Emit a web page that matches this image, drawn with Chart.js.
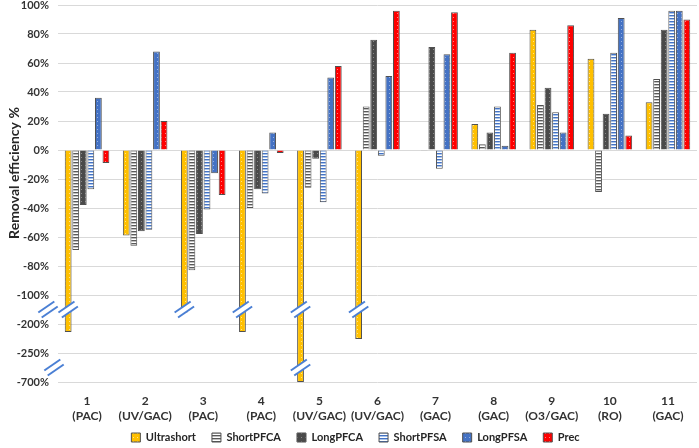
<!DOCTYPE html>
<html>
<head>
<meta charset="utf-8">
<script src="https://cdn.jsdelivr.net/npm/chart.js@4"></script>
<style>
  html, body { margin: 0; padding: 0; background: #fff; }
  #wrap { width: 699px; height: 448px; }
</style>
</head>
<body>
<div id="wrap"><canvas id="chart" width="699" height="448"></canvas></div>
<script>
// categories (two-line labels)
const categories = [
  ['1', '(PAC)'], ['2', '(UV/GAC)'], ['3', '(PAC)'], ['4', '(PAC)'],
  ['5', '(UV/GAC)'], ['6', '(UV/GAC)'], ['7', '(GAC)'], ['8', '(GAC)'],
  ['9', '(O3/GAC)'], ['10', '(RO)'], ['11', '(GAC)']
];

// removal efficiency in %
const ultrashort = [-214, -59, -160, -214, -700, -226, 0, 18, 83, 63, 33];
const shortPFCA  = [-69, -66, -83, -40, -26, 30, -0.5, 4, 31, -29, 49];
const longPFCA   = [-38, -56, -58, -27, -6, 76, 71, 12, 43, 25, 83];
const shortPFSA  = [-27, -55, -41, -30, -36, -4, -13, 30, 26, 67, 96];
const longPFSA   = [36, 68, -16, 12, 50, 51, 66, 3, 12, 91, 96];
const prec       = [-9, 20, -31, -2, 58, 96, 95, 67, 86, 10, 90];

// broken axis: tick position -> label shown
const tickLabels = { '-120': '-200%', '-140': '-250%', '-160': '-700%' };

// map a real % value onto the broken axis
function toAxis(v) {
  if (v >= -100) return v;
  if (v >= -200) return -100 + (v + 100) * 0.2;
  if (v >= -250) return -120 + (v + 200) * 0.4;
  return -140 + (v + 250) * (20 / 450);
}

const FONT = 'Lato, "Open Sans", sans-serif';

function dotPattern(bg, dot) {
  const c = document.createElement('canvas');
  c.width = 4; c.height = 4;
  const g = c.getContext('2d');
  g.fillStyle = bg; g.fillRect(0, 0, 4, 4);
  g.fillStyle = dot; g.fillRect(1, 1, 1, 1);
  return g.createPattern(c, 'repeat');
}
function stripePattern(dark, mid) {
  const c = document.createElement('canvas');
  c.width = 3; c.height = 3;
  const g = c.getContext('2d');
  g.fillStyle = '#fff'; g.fillRect(0, 0, 3, 3);
  g.fillStyle = dark; g.fillRect(0, 0, 3, 1);
  g.fillStyle = mid; g.fillRect(0, 1, 3, 1);
  return g.createPattern(c, 'repeat');
}

const series = [
  { label: 'Ultrashort', data: ultrashort, bg: dotPattern('#FFC000', 'rgba(255,255,255,0.55)') },
  { label: 'ShortPFCA',  data: shortPFCA,  bg: stripePattern('#595959', '#bfbfbf') },
  { label: 'LongPFCA',   data: longPFCA,   bg: dotPattern('#4a4a4a', 'rgba(255,255,255,0.35)') },
  { label: 'ShortPFSA',  data: shortPFSA,  bg: stripePattern('#4472C4', '#a9c4ea') },
  { label: 'LongPFSA',   data: longPFSA,   bg: dotPattern('#4472C4', 'rgba(255,255,255,0.45)') },
  { label: 'Prec',       data: prec,       bg: dotPattern('#FF0000', 'rgba(255,255,255,0.5)') }
];

function drawBreak(ctx, cx, cy) {
  const dx = 8, dy = -5.5;          // half length along the slash
  const len = Math.hypot(dx, dy);
  const nx = -dy / len, ny = dx / len; // normal
  const off = 3;
  ctx.save();
  ctx.fillStyle = '#fff';
  ctx.beginPath();
  ctx.moveTo(cx - dx + nx * off, cy - dy + ny * off);
  ctx.lineTo(cx + dx + nx * off, cy + dy + ny * off);
  ctx.lineTo(cx + dx - nx * off, cy + dy - ny * off);
  ctx.lineTo(cx - dx - nx * off, cy - dy - ny * off);
  ctx.closePath();
  ctx.fill();
  ctx.strokeStyle = '#4a7fd4';
  ctx.lineWidth = 2;
  [off, -off].forEach(o => {
    ctx.beginPath();
    ctx.moveTo(cx - dx + nx * o, cy - dy + ny * o);
    ctx.lineTo(cx + dx + nx * o, cy + dy + ny * o);
    ctx.stroke();
  });
  ctx.restore();
}

const breakPlugin = {
  id: 'breaks',
  beforeDraw(chart) {
    // let the two-line x labels run below the (short) axis box
    chart.scales.x.bottom = chart.height;
  },
  afterDatasetsDraw(chart) {
    const ctx = chart.ctx;
    const y = chart.scales.y;
    const meta = chart.getDatasetMeta(0);
    ultrashort.forEach((v, i) => {
      const x = meta.data[i].x;
      if (v < -100) drawBreak(ctx, x, y.getPixelForValue(-110));
      if (v < -250) drawBreak(ctx, x, y.getPixelForValue(-150));
    });
    // breaks on the axis itself
    drawBreak(ctx, 48, y.getPixelForValue(-110));
    drawBreak(ctx, 54, y.getPixelForValue(-150));
  },
  afterDraw(chart) {
    const ctx = chart.ctx;
    ctx.save();
    ctx.translate(14, 173);
    ctx.rotate(-Math.PI / 2);
    ctx.font = 'bold 14px ' + FONT;
    ctx.fillStyle = '#262626';
    ctx.textAlign = 'center';
    ctx.textBaseline = 'middle';
    ctx.fillText('Removal efficiency %', 0, 0);
    ctx.restore();
  }
};

const ctx = document.getElementById('chart').getContext('2d');
new Chart(ctx, {
  type: 'bar',
  data: {
    labels: categories,
    datasets: series.map(s => ({
      label: s.label,
      data: s.data.map(toAxis),
      backgroundColor: s.bg,
      borderColor: '#505050',
      borderWidth: 1,
      categoryPercentage: 0.78,
      barPercentage: 0.9
    }))
  },
  options: {
    responsive: false,
    animation: false,
    layout: { padding: { top: 5, right: 2, bottom: -4, left: 14 } },
    plugins: {
      tooltip: { enabled: false },
      legend: {
        position: 'bottom',
        maxHeight: 36,
        labels: {
          boxWidth: 9,
          boxHeight: 9,
          padding: 16,
          color: '#262626',
          font: { family: FONT, size: 11, weight: 'bold' }
        }
      }
    },
    scales: {
      x: {
        grid: { display: false },
        border: { display: false },
        ticks: {
          color: '#333',
          padding: 3,
          maxRotation: 0,
          font: { family: FONT, size: 12, weight: 'bold', lineHeight: 1.3 }
        },
        afterFit(s) { s.height = 34; }
      },
      y: {
        min: -160,
        max: 100,
        grid: { color: '#d9d9d9', drawTicks: false },
        border: { display: false },
        ticks: {
          stepSize: 20,
          padding: 9,
          color: '#333',
          font: { family: FONT, size: 11, weight: 'bold' },
          callback: v => tickLabels[v] || (v + '%')
        },
        afterFit(s) {
          s.width = 44;
          s.paddingTop = 0;
          s.paddingBottom = 0;
        }
      }
    }
  },
  plugins: [breakPlugin]
});
</script>
</body>
</html>
